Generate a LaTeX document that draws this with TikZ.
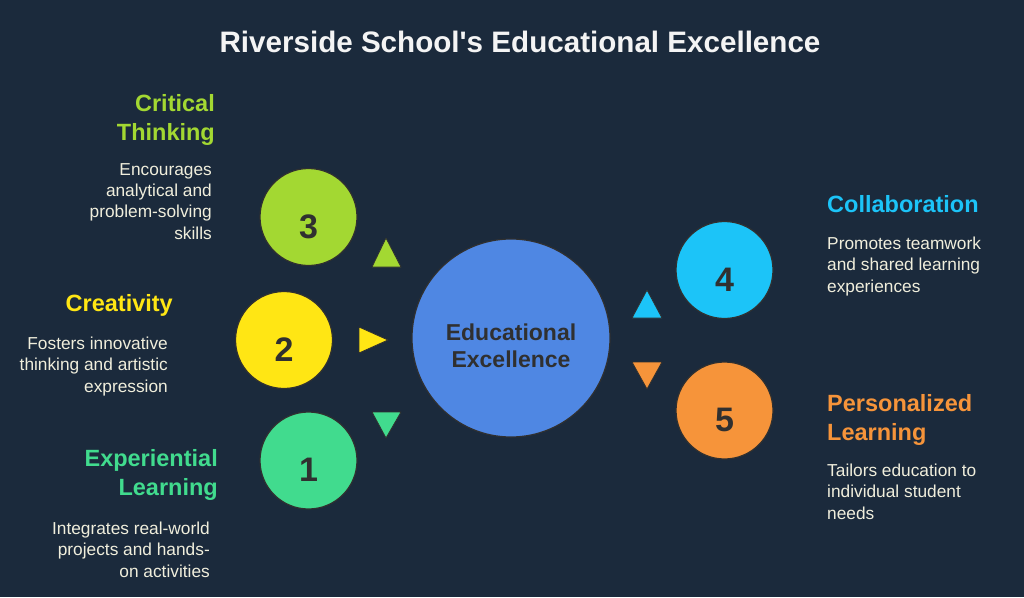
\documentclass[tikz,border=0pt]{standalone}
\usepackage{fontspec}
\setmainfont{Liberation Sans}[Ligatures=TeXOff]
\definecolor{bg}{HTML}{1B2A3C}
\definecolor{lime}{HTML}{A3D832}
\definecolor{yel}{HTML}{FFE614}
\definecolor{mint}{HTML}{41DB8E}
\definecolor{sky}{HTML}{1CC4F8}
\definecolor{orng}{HTML}{F6943A}
\definecolor{cblue}{HTML}{4F87E3}
\definecolor{ink}{HTML}{303030}
\definecolor{desc}{HTML}{F0EEDC}
\definecolor{ttl}{HTML}{F4F4F4}
\begin{document}
\begin{tikzpicture}[x=1pt,y=-1pt,
  bubble/.style={circle,draw=ink,line width=1.2pt,inner sep=0pt,minimum size=97pt},
  numtxt/.style={text=ink,font=\bfseries\fontsize{34}{34}\selectfont,inner sep=0pt,anchor=base},
  headR/.style={font=\bfseries\fontsize{23.5}{28.5}\selectfont,align=right,anchor=base east,inner sep=0pt},
  headL/.style={font=\bfseries\fontsize{23.5}{29}\selectfont,align=left,anchor=base west,inner sep=0pt},
  descR/.style={text=desc,font=\fontsize{17.3}{21.3}\selectfont,align=right,anchor=base east,inner sep=0pt},
  descL/.style={text=desc,font=\fontsize{17.3}{21.3}\selectfont,align=left,anchor=base west,inner sep=0pt},
  tri/.style={draw=ink,line width=0.8pt,line join=round}
]
\path[fill=bg] (0,0) rectangle (1024,597);
\useasboundingbox (0,0) rectangle (1024,597);

\node[text=ttl,font=\bfseries\fontsize{29.6}{29.6}\selectfont,anchor=base,inner sep=0pt] (title) at (520,52) {Riverside School's Educational Excellence};

% central circle
\node[circle,draw=ink,line width=1.2pt,fill=cblue,inner sep=0pt,minimum size=198pt] (ctr) at (511,338) {};
\node[text=ink,font=\bfseries\fontsize{23}{27}\selectfont,align=center,anchor=base,inner sep=0pt] (ctrtxt) at ([yshift=-29pt]ctr.center) {Educational\\Excellence};

% bubbles
\node[bubble,fill=lime] (c3) at (308.5,217) {};
\node[bubble,fill=yel] (c2) at (284,340) {};
\node[bubble,fill=mint] (c1) at (308.5,460.5) {};
\node[bubble,fill=sky] (c4) at (724.5,270) {};
\node[bubble,fill=orng] (c5) at (724.5,410.5) {};
\node[numtxt] (n3) at ([yshift=-21pt]c3.center) {3};
\node[numtxt] (n2) at ([yshift=-21pt]c2.center) {2};
\node[numtxt] (n1) at ([yshift=-21pt]c1.center) {1};
\node[numtxt] (n4) at ([yshift=-21pt]c4.center) {4};
\node[numtxt] (n5) at ([yshift=-21pt]c5.center) {5};

% triangles
\filldraw[tri,fill=lime] (386,238) -- (401,267) -- (372,267) -- cycle;
\filldraw[tri,fill=yel] (359,327) -- (388,340) -- (359,353) -- cycle;
\filldraw[tri,fill=mint] (372,412) -- (401,412) -- (386,438) -- cycle;
\filldraw[tri,fill=sky] (647,290) -- (662,318) -- (632,318) -- cycle;
\filldraw[tri,fill=orng] (632,362) -- (662,362) -- (647,389) -- cycle;

% texts left (anchor: baseline of the last line)
\node[headR,text=lime] (h3) at (215,140) {Critical\\Thinking};
\node[descR] (d3) at (212,239) {Encourages\\analytical and\\problem-solving\\skills};
\node[headR,text=yel] (h2) at (173,311) {Creativity};
\node[descR,font=\fontsize{17.3}{21.5}\selectfont] (d2) at (168,392) {Fosters innovative\\thinking and artistic\\expression};
\node[headR,text=mint] (h1) at (218,495) {Experiential\\Learning};
\node[descR,font=\fontsize{17.3}{21.5}\selectfont] (d1) at (210,577) {Integrates real-world\\projects and hands-\\on activities};

% texts right
\node[headL,text=sky] (h4) at (827,212) {Collaboration};
\node[descL] (d4) at (827,292) {Promotes teamwork\\and shared learning\\experiences};
\node[headL,text=orng] (h5) at (827,440) {Personalized\\Learning};
\node[descL] (d5) at (827,519) {Tailors education to\\individual student\\needs};
\end{tikzpicture}
\end{document}
